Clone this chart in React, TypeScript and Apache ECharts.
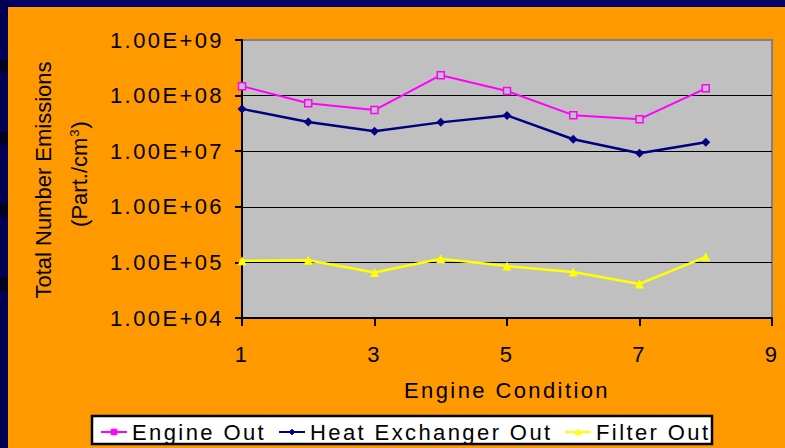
import React, { useEffect, useRef } from "react";
import * as echarts from "echarts";

// ---- data ----
const conditions = [1, 2, 3, 4, 5, 6, 7, 8];
const engineOut = [1.48e8, 7.3e7, 5.5e7, 2.33e8, 1.21e8, 4.45e7, 3.77e7, 1.35e8];
const heatExchangerOut = [5.77e7, 3.34e7, 2.28e7, 3.3e7, 4.4e7, 1.64e7, 9.2e6, 1.45e7];
const filterOut = [1.07e5, 1.09e5, 6.6e4, 1.16e5, 8.6e4, 6.7e4, 4.1e4, 1.26e5];
const seriesNames = ["Engine Out", "Heat Exchanger Out", "Filter Out"];
const xMin = 1;
const xMax = 9;
const xStep = 2;
const yMin = 1e4;
const yMax = 1e9;
const xTitle = "Engine Condition";
const yTitleLine1 = "Total Number Emissions";

const FONT = '"Liberation Sans", Arial, Helvetica, sans-serif';
const COLORS = ["#FF00FF", "#000080", "#FFFF00"];

function sciLabel(v: number): string {
  const e = Math.floor(Math.log10(v) + 1e-9);
  const m = v / Math.pow(10, e);
  const sign = e < 0 ? "-" : "+";
  return `${m.toFixed(2)}E${sign}${String(Math.abs(e)).padStart(2, "0")}`;
}

const pairs = (vals: number[]) => conditions.map((c, i) => [c, vals[i]]);

export default function App() {
  const mainRef = useRef<HTMLDivElement>(null);
  const overRef = useRef<HTMLDivElement>(null);

  useEffect(() => {
    if (!mainRef.current || !overRef.current) return;
    const chart = echarts.init(mainRef.current, null, { renderer: "svg" });
    const over = echarts.init(overRef.current, null, { renderer: "svg" });

    const legendLefts = [100, 278, 564];
    const legendData = seriesNames.map((n, i) => ({
      name: n,
      itemStyle: { color: COLORS[i], borderColor: COLORS[i], borderWidth: 1 },
    }));

    chart.setOption({
      animation: false,
      textStyle: { fontFamily: FONT },
      graphic: [
        {
          type: "rect",
          shape: { x: 92, y: 416, width: 620, height: 28 },
          style: { fill: "#FFFFFF", stroke: "#000000", lineWidth: 2.5 },
        },
      ],
      grid: {
        left: 242,
        right: 13,
        top: 40,
        bottom: 130,
        show: true,
        backgroundColor: "#C0C0C0",
        borderColor: "#808080",
        borderWidth: 2,
        outerBoundsMode: "none",
      },
      xAxis: {
        type: "value",
        min: xMin,
        max: xMax,
        interval: xStep,
        axisLine: { show: true, onZero: false, lineStyle: { color: "#000", width: 2 } },
        axisTick: { show: true, length: 8, lineStyle: { color: "#000", width: 2 } },
        axisLabel: { fontSize: 22, color: "#000", margin: 25, fontFamily: FONT },
        splitLine: { show: false },
        name: xTitle,
        nameLocation: "middle",
        nameGap: 61,
        nameTextStyle: { fontSize: 22, color: "#000", fontFamily: FONT },
      },
      yAxis: {
        type: "log",
        logBase: 10,
        min: yMin,
        max: yMax,
        axisLine: { show: true, lineStyle: { color: "#000", width: 2 } },
        axisTick: { show: true, length: 7, lineStyle: { color: "#000", width: 2 } },
        axisLabel: { fontSize: 22, color: "#000", margin: 18, fontFamily: FONT, formatter: sciLabel },
        splitLine: { show: true, showMaxLine: false, lineStyle: { color: "#000", width: 1 } },
      },
      legend: seriesNames.map((n, i) => ({
        data: [legendData[i]],
        left: legendLefts[i],
        top: 421,
        padding: 0,
        itemWidth: 26,
        itemHeight: 7,
        itemGap: 0,
        selectedMode: false,
        textStyle: { fontSize: 22, color: "#000", fontFamily: FONT },
      })),
      series: [
        {
          name: seriesNames[0],
          type: "line",
          data: pairs(engineOut),
          symbol: "rect",
          symbolSize: 7,
          itemStyle: { color: "#C0C0C0", borderColor: COLORS[0], borderWidth: 1.5 },
          lineStyle: { color: COLORS[0], width: 2 },
          z: 4,
        },
        {
          name: seriesNames[1],
          type: "line",
          data: pairs(heatExchangerOut),
          symbol: "diamond",
          symbolSize: 9,
          itemStyle: { color: COLORS[1] },
          lineStyle: { color: COLORS[1], width: 2.5 },
          z: 3,
        },
        {
          name: seriesNames[2],
          type: "line",
          data: pairs(filterOut),
          symbol: "triangle",
          symbolSize: 9,
          itemStyle: { color: COLORS[2] },
          lineStyle: { color: COLORS[2], width: 2.5 },
          z: 2,
        },
      ],
    });

    over.setOption({
      animation: false,
      graphic: [
        {
          type: "text",
          x: 43,
          y: 180,
          rotation: Math.PI / 2,
          style: {
            text: yTitleLine1,
            font: `22px ${FONT}`,
            fill: "#000",
            align: "center",
            verticalAlign: "middle",
          },
        },
        {
          type: "text",
          x: 79,
          y: 174,
          rotation: Math.PI / 2,
          style: {
            text: "{a|(Part./cm}{s|3}{a|)}",
            fill: "#000",
            align: "center",
            verticalAlign: "middle",
            rich: {
              a: { fontSize: 22, fontFamily: FONT, fill: "#000", lineHeight: 22, verticalAlign: "bottom" },
              s: {
                fontSize: 13,
                fontFamily: FONT,
                fill: "#000",
                lineHeight: 13,
                verticalAlign: "top",
                padding: [0, 1, 22, 1],
              },
            },
          },
        },
      ],
    });

    return () => {
      chart.dispose();
      over.dispose();
    };
  }, []);

  const band = (top: number, height: number, color: string) => (
    <div style={{ position: "absolute", left: 0, top, width: 8, height, background: color }} />
  );

  return (
    <div
      style={{
        position: "fixed",
        left: 0,
        top: 0,
        width: 785,
        height: 448,
        background: "#FF9900",
        overflow: "hidden",
      }}
    >
      <div style={{ position: "absolute", left: 0, top: 0, width: 785, height: 7, background: "#000066" }} />
      <div style={{ position: "absolute", left: 0, top: 0, width: 8, height: 448, background: "#000055" }} />
      {band(60, 12, "#000022")}
      {band(132, 13, "#000022")}
      {band(203, 14, "#000022")}
      {band(277, 14, "#000022")}
      <div
        ref={mainRef}
        style={{ position: "absolute", left: 0, top: 0, width: 785, height: 448, letterSpacing: "2.4px" }}
      />
      <div
        ref={overRef}
        style={{ position: "absolute", left: 0, top: 0, width: 785, height: 448, pointerEvents: "none" }}
      />
    </div>
  );
}
